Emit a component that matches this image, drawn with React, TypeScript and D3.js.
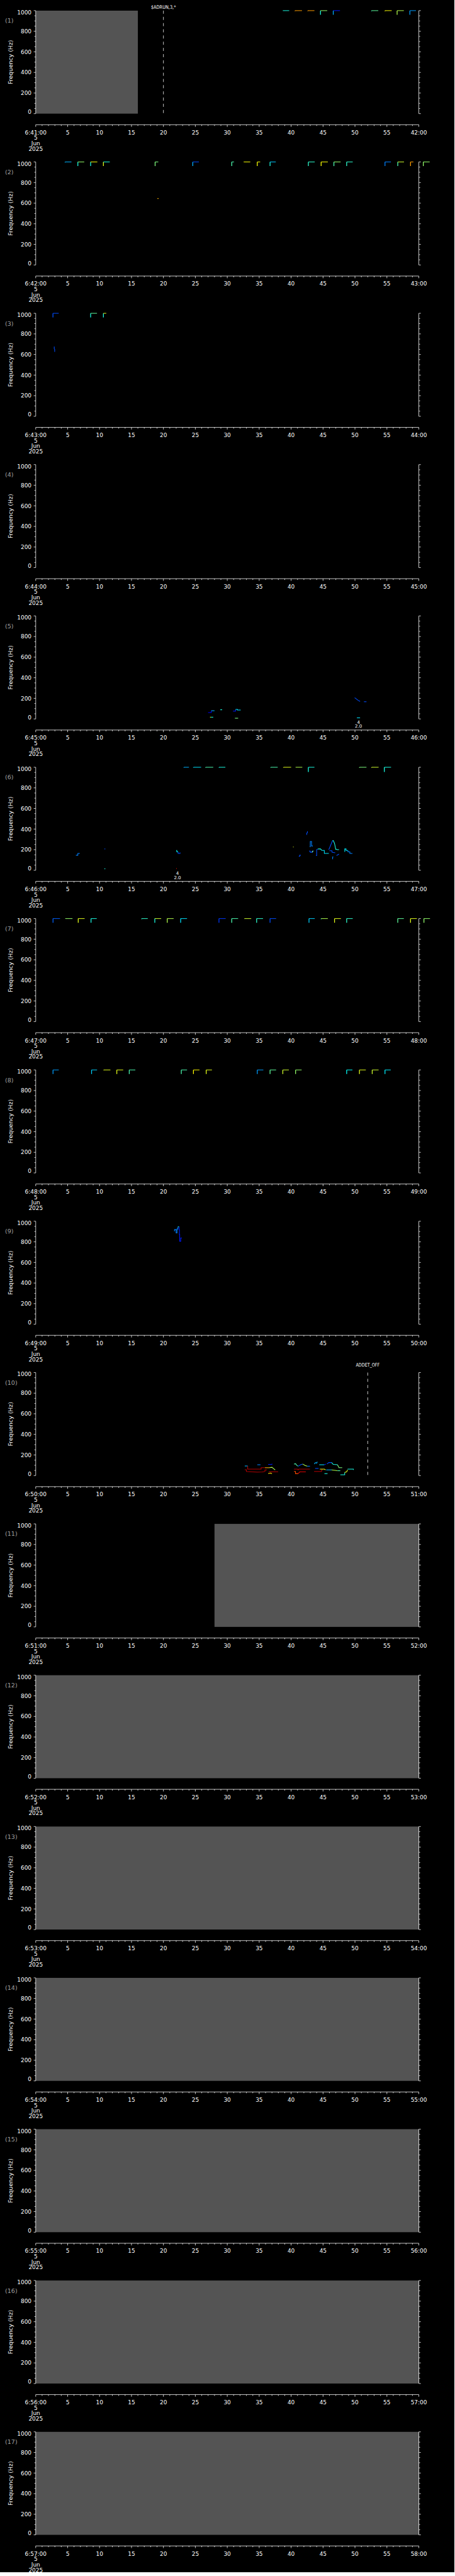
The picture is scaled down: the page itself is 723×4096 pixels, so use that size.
import React from "react";
import * as d3 from "d3";

const W = 1024;
const H = 5802;
const SCALE = 0.705;

// time axis labels, one panel per minute
const panelStart = [
  "6:41:00", "6:42:00", "6:43:00", "6:44:00", "6:45:00", "6:46:00", "6:47:00", "6:48:00", "6:49:00",
  "6:50:00", "6:51:00", "6:52:00", "6:53:00", "6:54:00", "6:55:00", "6:56:00", "6:57:00",
];
const panelEnd = [
  "42:00", "43:00", "44:00", "45:00", "46:00", "47:00", "48:00", "49:00", "50:00",
  "51:00", "52:00", "53:00", "54:00", "55:00", "56:00", "57:00", "58:00",
];
const dateLines = ["5", "Jun", "2025"];
const secLabels = ["5", "10", "15", "20", "25", "30", "35", "40", "45", "50", "55"];
const freqTicks = [0, 200, 400, 600, 800, 1000];

// grey = no data  [panel, from s, to s]
const noData = [
  [0, 0, 16], [10, 28, 60], [11, 0, 60], [12, 0, 60], [13, 0, 60], [14, 0, 60], [15, 0, 60], [16, 0, 60],
];

const eventLines = [
  { panel: 0, t: 20, text: "$ADRUN,3,*" },
  { panel: 9, t: 52, text: "ADDET_OFF" },
];

const peakNotes = [
  { panel: 4, t: 50.55, n: "4", v: "2.0" },
  { panel: 5, t: 22.2, n: "4", v: "2.0" },
];

// 1000 Hz tone marks: [start s, width s, colour 0..1, drop Hz, colour of drop]
const tones1 = [
  [38.7, 1.0, 0.4, 0], [40.6, 1.1, 0.72, 3], [42.6, 1.05, 0.72, 3], [44.6, 1.05, 0.52, 40, 0.4],
  [46.6, 1.05, 0.15, 40, 0.3], [52.6, 1.05, 0.47, 5, 0.4], [54.7, 1.05, 0.62, 5], [56.6, 1.05, 0.55, 40],
  [58.6, 0.95, 0.28, 40],
];
const tones2 = [
  [4.6, 1.0, 0.3, 5], [6.6, 1.0, 0.52, 40, 0.4], [8.6, 1.05, 0.62, 40, 0.4], [10.6, 1.0, 0.4, 40, 0.6],
  [18.7, 0.5, 0.5, 40], [24.6, 0.95, 0.2, 40, 0.3], [30.7, 0.35, 0.45, 40], [32.6, 1.0, 0.62, 3],
  [34.7, 0.45, 0.62, 40], [36.7, 0.9, 0.32, 40, 0.4], [42.7, 1.0, 0.42, 40], [44.7, 1.05, 0.62, 40],
  [46.7, 1.05, 0.52, 40, 0.45], [48.7, 0.95, 0.42, 40], [54.7, 0.93, 0.25, 40], [56.7, 0.98, 0.58, 40, 0.45],
  [58.7, 0.45, 0.72, 40], [60.7, 1.0, 0.52, 40],
];
const tones3 = [[2.7, 0.9, 0.2, 40], [8.6, 1.0, 0.47, 40, 0.4], [10.6, 0.45, 0.6, 40, 0.4]];
const tones6 = [
  [23.2, 0.8, 0.3, 3], [24.7, 1.2, 0.35, 3], [26.6, 1.2, 0.45, 3], [28.7, 1.0, 0.4, 3],
  [36.8, 1.1, 0.45, 3], [38.8, 1.2, 0.6, 3], [40.7, 1.05, 0.55, 0], [42.7, 0.95, 0.4, 46],
  [50.7, 1.1, 0.5, 4], [52.6, 1.1, 0.58, 4], [54.6, 1.05, 0.4, 46],
];
const tones7 = [
  [2.71, 1.1, 0.22, 40], [4.66, 1.1, 0.52, 3], [6.66, 1.0, 0.6, 40], [8.66, 0.9, 0.4, 40],
  [16.6, 0.95, 0.42, 5], [18.65, 1.0, 0.58, 40, 0.4], [20.6, 1.0, 0.55, 40], [22.7, 1.0, 0.35, 40],
  [28.7, 1.05, 0.18, 40], [30.7, 1.0, 0.45, 40], [32.7, 1.05, 0.58, 3], [34.6, 1.0, 0.42, 40],
  [36.7, 0.95, 0.2, 40], [42.8, 0.9, 0.33, 40], [44.7, 1.05, 0.55, 5, 0.4], [46.8, 1.0, 0.6, 40],
  [48.7, 0.95, 0.42, 40], [56.7, 0.95, 0.47, 40], [58.7, 1.0, 0.6, 40], [60.8, 0.95, 0.52, 40],
];
const tones8 = [
  [2.71, 0.9, 0.28, 40], [8.75, 0.86, 0.33, 40], [10.65, 1.05, 0.6, 3], [12.7, 1.0, 0.6, 40],
  [14.65, 0.95, 0.45, 40], [22.8, 0.9, 0.45, 40], [24.7, 0.95, 0.63, 40], [26.7, 0.9, 0.6, 40],
  [34.7, 0.95, 0.28, 40], [36.7, 0.95, 0.47, 40], [38.7, 0.95, 0.58, 40], [40.7, 0.95, 0.52, 40],
  [48.7, 0.9, 0.38, 40], [50.7, 1.0, 0.6, 40], [52.7, 1.0, 0.58, 40], [54.7, 0.9, 0.36, 40],
];
const toneMarks = [tones1, tones2, tones3, [], [], tones6, tones7, tones8];

// lower frequency traces: colour + [s, Hz] points
const traces2 = [{ c: 0.7, p: [[19.05, 645], [19.25, 645]] }];
const traces3 = [{ c: 0.2, p: [[2.9, 677], [2.9, 655], [2.97, 650], [2.97, 625]] }];
const traces5 = [
  { c: 0.12, p: [[27.0, 62], [27.5, 62], [27.5, 80]] },
  { c: 0.3, p: [[27.5, 80], [28.0, 80]] },
  { c: 0.62, p: [[27.3, 17], [27.45, 17]] },
  { c: 0.4, p: [[27.45, 17], [27.8, 17]] },
  { c: 0.4, p: [[28.9, 89], [29.2, 89]] },
  { c: 0.15, p: [[30.9, 76], [31.3, 76], [31.3, 93]] },
  { c: 0.35, p: [[31.3, 93], [31.6, 93], [31.6, 86], [32.1, 86]] },
  { c: 0.5, p: [[31.2, 7], [31.7, 7]] },
  { c: 0.2, p: [[49.95, 205], [50.1, 200], [50.3, 190], [50.5, 180], [50.8, 170]] },
  { c: 0.2, p: [[51.4, 167], [51.8, 167]] },
  { c: 0.35, p: [[50.3, 11], [50.8, 11]] },
];
const traces6 = [
  { c: 0.25, p: [[6.3, 146], [6.6, 146], [6.6, 164], [6.9, 164]] },
  { c: 0.2, p: [[10.75, 207], [10.9, 207]] },
  { c: 0.4, p: [[10.75, 14], [10.9, 14]] },
  { c: 0.38, p: [[22.0, 193], [22.1, 193], [22.1, 179], [22.3, 179]] },
  { c: 0.2, p: [[22.3, 179], [22.3, 164], [22.6, 164], [22.6, 172]] },
  { c: 0.85, p: [[22.0, 17], [22.1, 17]] },
  { c: 0.6, p: [[40.3, 226], [40.4, 226]] },
  { c: 0.2, p: [[41.2, 136], [41.35, 136], [41.35, 146], [41.5, 146]] },
  { c: 0.2, p: [[42.45, 343], [42.45, 360], [42.55, 365], [42.55, 379]] },
  { c: 0.2, p: [[42.8, 186], [43.0, 186], [43.0, 175], [43.3, 175], [43.3, 186], [43.5, 186]] },
  { c: 0.5, p: [[43.3, 175], [43.45, 190]] },
  { c: 0.25, p: [[42.9, 229], [43.0, 229], [43.0, 279], [43.2, 279], [43.2, 236], [43.4, 236]] },
  { c: 0.2, p: [[43.9, 143], [44.0, 143], [44.0, 200], [44.2, 207]] },
  { c: 0.4, p: [[44.2, 207], [44.6, 207], [44.8, 193]] },
  { c: 0.35, p: [[44.8, 193], [45.2, 193], [45.2, 164], [45.9, 164]] },
  { c: 0.2, p: [[45.9, 200], [46.1, 229], [46.3, 260], [46.5, 289]] },
  { c: 0.4, p: [[46.5, 289], [46.6, 289], [46.8, 260], [47.0, 200]] },
  { c: 0.2, p: [[46.0, 189], [46.4, 189], [46.4, 175], [46.9, 169]] },
  { c: 0.25, p: [[46.5, 107], [46.5, 129], [46.6, 129]] },
  { c: 0.2, p: [[47.1, 143], [47.3, 150], [47.5, 157]] },
  { c: 0.4, p: [[47.0, 207], [47.2, 200], [47.5, 200]] },
  { c: 0.36, p: [[48.4, 179], [48.4, 207], [48.6, 207], [48.6, 193], [48.9, 193]] },
  { c: 0.25, p: [[48.9, 193], [48.9, 179], [49.2, 179], [49.2, 164], [49.6, 164]] },
];
const traces9 = [
  { c: 0.25, p: [[21.67, 906], [21.74, 906], [21.74, 919], [21.99, 919], [21.99, 886], [22.13, 886], [22.13, 925], [22.27, 925], [22.27, 946]] },
  { c: 0.4, p: [[22.27, 946], [22.46, 946]] },
  { c: 0.15, p: [[22.46, 946], [22.46, 915], [22.5, 915], [22.5, 872], [22.55, 872], [22.55, 806], [22.71, 806], [22.71, 837], [22.9, 837]] },
];
const traces10 = [
  { c: 0.3, p: [[32.74, 93], [33.2, 93]] },
  { c: 0.95, p: [[33.2, 93], [33.2, 62], [35.3, 62], [35.3, 76], [35.9, 76]] },
  { c: 0.7, p: [[35.9, 76], [36.6, 76]] },
  { c: 0.55, p: [[36.6, 76], [37.0, 80], [37.3, 65], [37.5, 55]] },
  { c: 0.95, p: [[32.74, 57], [33.0, 57], [33.0, 40], [33.9, 36], [34.7, 33], [35.5, 35], [35.9, 40], [35.9, 55], [36.2, 55]] },
  { c: 0.95, p: [[36.5, 37], [37.96, 37]] },
  { c: 0.25, p: [[34.7, 105], [35.2, 105]] },
  { c: 0.15, p: [[36.4, 108], [37.0, 108], [37.0, 115]] },
  { c: 0.65, p: [[36.4, 20], [36.8, 24], [37.0, 18]] },
  { c: 0.45, p: [[40.45, 112], [40.7, 115], [40.9, 98], [41.1, 91]] },
  { c: 0.2, p: [[41.1, 91], [41.5, 105], [41.8, 112]] },
  { c: 0.55, p: [[41.8, 112], [42.2, 98], [42.5, 91]] },
  { c: 0.25, p: [[42.5, 91], [42.95, 91]] },
  { c: 0.95, p: [[40.45, 62], [41.0, 62], [41.1, 55], [41.2, 62], [42.95, 62]] },
  { c: 0.8, p: [[40.45, 40], [40.68, 40], [40.68, 19], [41.1, 19]] },
  { c: 0.9, p: [[41.1, 19], [41.36, 36], [42.3, 36]] },
  { c: 0.95, p: [[43.6, 40], [44.76, 40], [44.76, 57], [45.0, 57]] },
  { c: 0.3, p: [[43.63, 112], [43.8, 126], [44.0, 120], [44.1, 134]] },
  { c: 0.35, p: [[44.4, 105], [45.2, 105]] },
  { c: 0.15, p: [[45.2, 105], [45.44, 112]] },
  { c: 0.2, p: [[45.6, 112], [45.9, 126], [46.35, 126]] },
  { c: 0.4, p: [[46.35, 126], [46.6, 108], [47.26, 105]] },
  { c: 0.5, p: [[47.26, 105], [47.5, 76], [48.0, 76]] },
  { c: 0.2, p: [[43.76, 69], [44.3, 69]] },
  { c: 0.6, p: [[44.5, 62], [45.2, 62], [45.4, 55]] },
  { c: 0.3, p: [[45.5, 55], [46.35, 55]] },
  { c: 0.55, p: [[46.35, 55], [47.26, 47]] },
  { c: 0.45, p: [[47.26, 47], [47.7, 47]] },
  { c: 0.4, p: [[45.22, 19], [45.7, 19]] },
  { c: 0.4, p: [[47.71, 7], [48.39, 7], [48.39, 30]] },
  { c: 0.6, p: [[48.39, 30], [48.7, 36], [48.84, 55]] },
  { c: 0.4, p: [[48.84, 62], [49.75, 62], [49.75, 55]] },
];
const traceSets = [[], traces2, traces3, [], traces5, traces6, [], [], traces9, traces10];

const FONT = "DejaVu Sans";
const PANEL_TOP = 24;
const PANEL_STEP = 341.3;
const PLOT_H = 232.3;
const AXIS_GAP = 25;
const eventLift = [4, 13.4];
const eventWidth = [56, 53.5];

const jet = d3
  .scaleLinear<string>()
  .domain([0, 0.125, 0.375, 0.625, 0.875, 1])
  .range(["#00008f", "#0000ff", "#00ffff", "#ffff00", "#ff0000", "#800000"]);

export default function App() {
  const x = d3.scaleLinear().domain([0, 60]).range([80.5, 944]);
  const seconds = d3.range(0, 61);
  const minorFreq = d3.range(0, 1001, 50);

  const panels = panelStart.map((start, i) => {
    const top = PANEL_TOP + i * PANEL_STEP;
    const y = d3.scaleLinear().domain([0, 1000]).range([top + PLOT_H, top]);
    return { i, top, bottom: top + PLOT_H, y, start, end: panelEnd[i] };
  });

  return (
    <svg
      width={W * SCALE}
      height={H * SCALE}
      style={{ position: "absolute", left: 0, top: 0, display: "block", background: "#000" }}
    >
      <rect width={W * SCALE} height={H * SCALE} fill="#000" />
      <g transform={`scale(${SCALE})`} fontFamily={FONT} fill="#fff">
        {panels.map(({ i, top, bottom, y, start, end }) => {
          const line = d3
            .line<number[]>()
            .x((d) => x(d[0]))
            .y((d) => y(d[1]));
          const axisY = bottom + AXIS_GAP;
          return (
            <g key={i}>
              {noData
                .filter((g) => g[0] === i)
                .map((g, k) => (
                  <rect
                    key={k}
                    x={x(g[1])}
                    y={top}
                    width={x(g[2]) - x(g[1])}
                    height={bottom - top}
                    fill="#545454"
                  />
                ))}

              {(toneMarks[i] || []).map((m, k) => {
                const [t, w, c, drop, cv] = m as number[];
                return (
                  <g key={k} fill="none" strokeWidth={1.4}>
                    {drop > 0 && (
                      <path
                        d={`M${x(t)},${y(1000 - drop)}V${y(1000)}`}
                        stroke={jet(cv ?? c)}
                        strokeWidth={1.8}
                      />
                    )}
                    <path d={`M${x(t)},${y(1000)}H${x(t + w)}`} stroke={jet(c)} />
                  </g>
                );
              })}

              {(traceSets[i] || []).map((tr, k) => (
                <path key={k} d={line(tr.p) || ""} fill="none" stroke={jet(tr.c)} strokeWidth={1.5} />
              ))}

              {eventLines.map((ev, k) =>
                ev.panel === i ? (
                  <g key={k}>
                    <line
                      x1={x(ev.t)}
                      x2={x(ev.t)}
                      y1={top}
                      y2={bottom}
                      stroke="#fff"
                      strokeWidth={1.1}
                      strokeDasharray="7 7"
                    />
                    <text
                      x={x(ev.t)}
                      y={top - eventLift[k]}
                      textAnchor="middle"
                      fontSize={11}
                      textLength={eventWidth[k]}
                      lengthAdjust="spacingAndGlyphs"
                    >
                      {ev.text}
                    </text>
                  </g>
                ) : null
              )}

              {peakNotes
                .filter((n) => n.panel === i)
                .map((n, k) => (
                  <g key={k} fontSize={10} textAnchor="middle">
                    <text x={x(n.t)} y={bottom + 10.5}>{n.n}</text>
                    <text x={x(n.t)} y={bottom + 19.8}>{n.v}</text>
                  </g>
                ))}

              {/* frequency axes, left and right */}
              <g stroke="#fff" strokeWidth={1.1}>
                <line x1={x(0)} x2={x(0)} y1={top} y2={bottom} />
                <line x1={x(60)} x2={x(60)} y1={top} y2={bottom} />
                {minorFreq.map((f) => {
                  const len = f % 200 === 0 ? 4.5 : 3;
                  return (
                    <g key={f}>
                      <line x1={x(0) - len} x2={x(0)} y1={y(f)} y2={y(f)} />
                      <line x1={x(60)} x2={x(60) + len} y1={y(f)} y2={y(f)} />
                    </g>
                  );
                })}
              </g>
              <g fontSize={12.7} textAnchor="end">
                {freqTicks.map((f) => (
                  <text key={f} x={71} y={y(f) + (f === 1000 ? 8.5 : f === 0 ? 0.5 : 4.6)}>
                    {f}
                  </text>
                ))}
              </g>
              <text
                transform={`translate(23.5,${(top + bottom) / 2}) rotate(-90)`}
                textAnchor="middle"
                dy="0.35em"
                fontSize={12.7}
                textLength={100}
                lengthAdjust="spacingAndGlyphs"
              >
                Frequency (Hz)
              </text>
              <text x={11.5} y={top + 27.5} fontSize={13.5} fill="#a0a0a0">
                ({i + 1})
              </text>

              {/* time axis */}
              <g stroke="#fff" strokeWidth={1.1}>
                <line x1={x(0)} x2={x(60)} y1={axisY} y2={axisY} />
                {seconds.map((s) => (
                  <line key={s} x1={x(s)} x2={x(s)} y1={axisY} y2={axisY + (s % 5 === 0 ? 4.8 : 2.8)} />
                ))}
              </g>
              <g fontSize={12.7} textAnchor="middle">
                <text x={x(0)} y={axisY + 22}>{start}</text>
                {dateLines.map((d, k) => (
                  <text key={d} x={x(0)} y={axisY + 34.3 + k * 12.2}>
                    {d}
                  </text>
                ))}
                {secLabels.map((s) => (
                  <text key={s} x={x(+s)} y={axisY + 22}>
                    {s}
                  </text>
                ))}
                <text x={x(60)} y={axisY + 22}>{end}</text>
              </g>
            </g>
          );
        })}
      </g>
    </svg>
  );
}
